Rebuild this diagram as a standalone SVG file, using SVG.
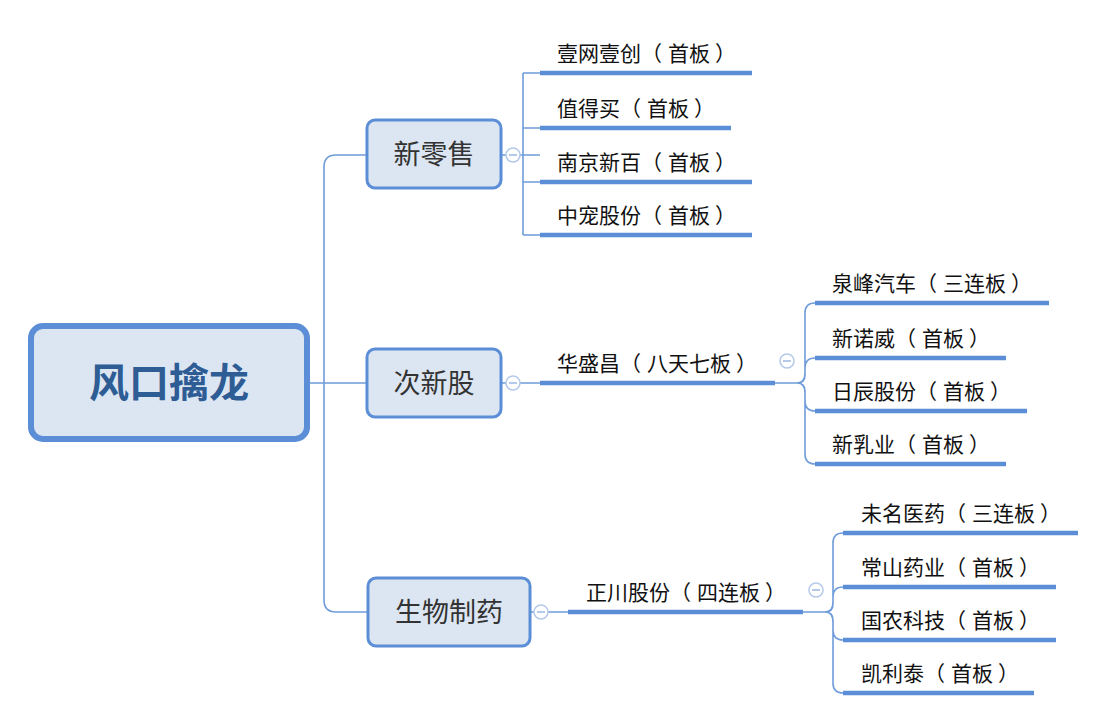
<svg xmlns="http://www.w3.org/2000/svg" width="1108" height="723" viewBox="0 0 1108 723">
<style>
.thin{fill:none;stroke:#6F9CDA;stroke-width:1.6}
.thick{fill:none;stroke:#5B8ED6;stroke-width:4.5}
.col{fill:#fff;stroke:#B3C9EA;stroke-width:1.5}
.colm{stroke:#9DB8E3;stroke-width:1.5}
.sub{fill:#DCE6F2;stroke:#5B8ED6;stroke-width:3}
.subt{font-family:"Noto Sans CJK SC",sans-serif;font-size:27px;fill:#333;text-anchor:middle}
.leaf{font-family:"Noto Sans CJK SC",sans-serif;font-size:21px;fill:#111}
</style>
<g id="connectors">
<path class="thin" d="M310,383 H366 M366,155 H336 Q324,155 324,167 V600 Q324,612 336,612 H367"/>
<path class="thin" d="M501,155 H540 M523,73 V235 M523,73 H540 M523,128 H540 M523,182 H540 M523,235 H540"/>
<path class="thin" d="M501,383 H540 M775,383 H797"/>
<path class="thin" d="M797,383 Q805,383 805,373 V313 Q805,303 815,303 M797,383 Q805,383 805,375 V368 Q805,358 815,358 M797,383 Q805,383 805,391 V401 Q805,411 815,411 M797,383 Q805,383 805,393 V454 Q805,464 815,464"/>
<path class="thin" d="M530,612 H568 M803,612 H825"/>
<path class="thin" d="M825,612 Q833,612 833,602 V543 Q833,533 843,533 M825,612 Q833,612 833,604 V597 Q833,587 843,587 M825,612 Q833,612 833,620 V630 Q833,640 843,640 M825,612 Q833,612 833,622 V683 Q833,693 843,693"/>
<path class="thick" d="M540,73 H752 M540,128 H731 M540,182 H752 M540,235 H752"/>
<path class="thick" d="M540,383 H775"/>
<path class="thick" d="M815,303 H1049 M815,358 H1006 M815,411 H1027 M815,464 H1006"/>
<path class="thick" d="M568,612 H803"/>
<path class="thick" d="M843,533 H1078 M843,587 H1056 M843,640 H1056 M843,693 H1034"/>
<g id="collapse-buttons">
<circle class="col" cx="513" cy="155" r="7"/><path class="colm" d="M509,155 H517"/>
<circle class="col" cx="513" cy="383" r="7"/><path class="colm" d="M509,383 H517"/>
<circle class="col" cx="541" cy="612" r="7"/><path class="colm" d="M537,612 H545"/>
<circle class="col" cx="787" cy="361" r="7"/><path class="colm" d="M783,361 H791"/>
<circle class="col" cx="816" cy="590" r="7"/><path class="colm" d="M812,590 H820"/>
</g>
</g>
<g id="root">
<rect x="31" y="326" width="276" height="113" rx="12" fill="#DCE6F2" stroke="#5B8ED6" stroke-width="6"/>
<text x="169" y="397" font-family="'Noto Sans CJK SC',sans-serif" font-size="40" font-weight="bold" fill="#2E5C95" text-anchor="middle">风口擒龙</text>
</g>
<g id="node-xinlingshou">
<rect class="sub" x="367" y="120" width="134" height="68" rx="8"/>
<text class="subt" x="434" y="164">新零售</text>
</g>
<g id="node-cixingu">
<rect class="sub" x="367" y="349" width="134" height="68" rx="8"/>
<text class="subt" x="434" y="393">次新股</text>
</g>
<g id="node-shengwuzhiyao">
<rect class="sub" x="368" y="578" width="162" height="68" rx="8"/>
<text class="subt" x="449" y="622">生物制药</text>
</g>
<g id="leaf-1"><text class="leaf" x="557" y="61">壹网壹创（<tspan dx="6">首板</tspan><tspan dx="5">）</tspan></text></g>
<g id="leaf-2"><text class="leaf" x="557" y="116">值得买（<tspan dx="6">首板</tspan><tspan dx="5">）</tspan></text></g>
<g id="leaf-3"><text class="leaf" x="557" y="170">南京新百（<tspan dx="6">首板</tspan><tspan dx="5">）</tspan></text></g>
<g id="leaf-4"><text class="leaf" x="557" y="223">中宠股份（<tspan dx="6">首板</tspan><tspan dx="5">）</tspan></text></g>
<g id="leaf-5"><text class="leaf" x="557" y="371">华盛昌（<tspan dx="6">八天七板</tspan><tspan dx="5">）</tspan></text></g>
<g id="leaf-6"><text class="leaf" x="832" y="291">泉峰汽车（<tspan dx="6">三连板</tspan><tspan dx="5">）</tspan></text></g>
<g id="leaf-7"><text class="leaf" x="832" y="346">新诺威（<tspan dx="6">首板</tspan><tspan dx="5">）</tspan></text></g>
<g id="leaf-8"><text class="leaf" x="832" y="399">日辰股份（<tspan dx="6">首板</tspan><tspan dx="5">）</tspan></text></g>
<g id="leaf-9"><text class="leaf" x="832" y="452">新乳业（<tspan dx="6">首板</tspan><tspan dx="5">）</tspan></text></g>
<g id="leaf-10"><text class="leaf" x="586" y="600">正川股份（<tspan dx="6">四连板</tspan><tspan dx="5">）</tspan></text></g>
<g id="leaf-11"><text class="leaf" x="861" y="521">未名医药（<tspan dx="6">三连板</tspan><tspan dx="5">）</tspan></text></g>
<g id="leaf-12"><text class="leaf" x="861" y="575">常山药业（<tspan dx="6">首板</tspan><tspan dx="5">）</tspan></text></g>
<g id="leaf-13"><text class="leaf" x="861" y="628">国农科技（<tspan dx="6">首板</tspan><tspan dx="5">）</tspan></text></g>
<g id="leaf-14"><text class="leaf" x="861" y="681">凯利泰（<tspan dx="6">首板</tspan><tspan dx="5">）</tspan></text></g>
</svg>
